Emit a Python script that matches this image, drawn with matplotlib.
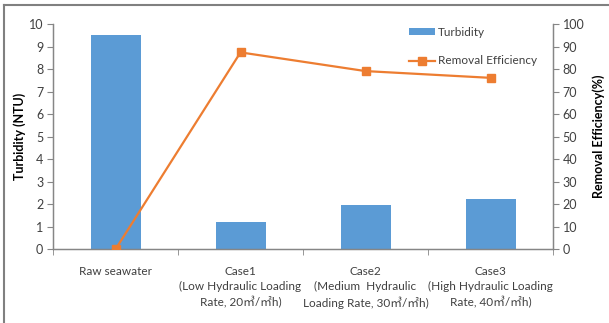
import matplotlib
matplotlib.use("Agg")
import matplotlib.pyplot as plt
from matplotlib.lines import Line2D
from matplotlib.patches import Patch

plt.rcParams['font.family'] = ['Lato', 'Noto Sans CJK KR', 'DejaVu Sans']

categories = [
    "Raw seawater",
    "Case1\n(Low Hydraulic Loading\nRate, 20㎥/㎡h)",
    "Case2\n(Medium  Hydraulic\nLoading Rate, 30㎥/㎡h)",
    "Case3\n(High Hydraulic Loading\nRate, 40㎥/㎡h)",
]
turbidity = [9.5, 1.2, 1.95, 2.25]
removal_efficiency = [0, 87.4, 79.1, 76.1]

bar_color = "#5B9BD5"
line_color = "#ED7D31"
axis_gray = "#868686"
text_color = "#404040"

W, H = 609, 323
fig = plt.figure(figsize=(W / 100, H / 100), dpi=100)

# outer chart frame (left and top edges)
fig.add_artist(Line2D([3.5 / W, 3.5 / W], [0, 1 - 5 / H], color="#808080", lw=1.5,
                      transform=fig.transFigure))
fig.add_artist(Line2D([3.5 / W, 1], [1 - 5 / H, 1 - 5 / H], color="#808080", lw=1.5,
                      transform=fig.transFigure))

left, right = 53 / W, 553 / W
bottom, top = (H - 249.3) / H, (H - 24) / H
ax = fig.add_axes([left, bottom, right - left, top - bottom])
ax2 = ax.twinx()

x = list(range(len(categories)))
ax.bar(x, turbidity, width=0.4, color=bar_color, zorder=2)
ax2.plot(x, removal_efficiency, color=line_color, lw=1.6, marker="s",
         markersize=6, zorder=3)

ax.set_xlim(-0.5, len(categories) - 0.5)
ax.set_ylim(0, 10)
ax.set_yticks(range(0, 11))
ax2.set_ylim(0, 100)
ax2.set_yticks(range(0, 101, 10))

ax.set_xticks(x)
ax.set_xticklabels(categories, fontsize=8.5, color=text_color, linespacing=1.45)
ax.set_xticks([i - 0.5 for i in range(len(categories) + 1)], minor=True)
ax.tick_params(axis="x", which="major", length=0, pad=12)
ax.tick_params(axis="x", which="minor", length=4, color=axis_gray)
ax.tick_params(axis="y", length=4, color=axis_gray, labelsize=9, labelcolor=text_color, pad=3)
ax2.tick_params(axis="y", length=4, color=axis_gray, labelsize=9, labelcolor=text_color, pad=3)

for a in (ax, ax2):
    a.spines["top"].set_visible(False)
    for s in ("left", "right", "bottom"):
        a.spines[s].set_color(axis_gray)
        a.spines[s].set_linewidth(0.9)

ax.set_ylabel("Turbidity (NTU)", fontsize=9, fontweight="bold", color="black", labelpad=2)
ax2.set_ylabel("Removal Efficiency(%)", fontsize=9, fontweight="bold", color="black", labelpad=6)

handles = [
    Patch(facecolor=bar_color, edgecolor="none"),
    Line2D([0], [0], color=line_color, lw=1.6, marker="s", markersize=6),
]
leg = ax.legend(handles, ["Turbidity", "Removal Efficiency"], loc="upper left",
                bbox_to_anchor=((401 - 53) / 500, 1.025), frameon=False, fontsize=8.5,
                labelcolor=text_color, handlelength=2.2, handleheight=0.5,
                handletextpad=0.2, labelspacing=1.5, borderaxespad=0.3)

fig.savefig("out.png", dpi=100)
